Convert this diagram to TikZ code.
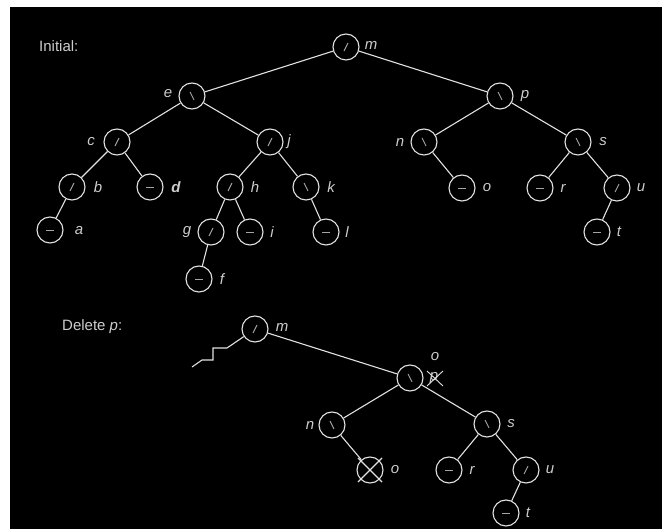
\documentclass[tikz,border=0pt]{standalone}
\usepackage{fontspec}
\setmainfont{Liberation Sans}
\begin{document}
\begin{tikzpicture}[x=1pt,y=-1pt,
  tn/.style={circle, draw=lgray, line width=1.1pt, minimum size=26pt, inner sep=0pt},
  edge/.style={draw=lgray, line width=1.1pt},
  sym/.style={draw=sgray, line width=0.9pt},
  lab/.style={text=tgray, font=\itshape\fontsize{15}{17}\selectfont, inner sep=0pt},
  ttl/.style={text=tgray, font=\fontsize{15}{17}\selectfont, inner sep=0pt, anchor=west}]
\definecolor{lgray}{RGB}{225,225,225}
\definecolor{sgray}{RGB}{165,165,165}
\definecolor{tgray}{RGB}{205,205,205}
\useasboundingbox (0,0) rectangle (662,529);
\fill[black] (10,7) rectangle (662,529);
\newcommand\Ls[1]{\draw[sym] ([shift={(-2,4)}]#1.center) -- ([shift={(2,-4)}]#1.center);}
\newcommand\Rs[1]{\draw[sym] ([shift={(-2,-4)}]#1.center) -- ([shift={(2,4)}]#1.center);}
\newcommand\Bs[1]{\draw[sym] ([shift={(-4,0)}]#1.center) -- ([shift={(4,0)}]#1.center);}
% titles
\node[ttl] (t1) at (39,46) {Initial:};
\node[ttl] (t2) at (62,327) {Delete \textit{p}:};
% initial tree
\node[tn] (m) at (346,47) {};
\node[tn] (e) at (192,96) {};
\node[tn] (p) at (500,96) {};
\node[tn] (c) at (117,142) {};
\node[tn] (j) at (270,142) {};
\node[tn] (n) at (424,142) {};
\node[tn] (s) at (578,142) {};
\node[tn] (b) at (72,187) {};
\node[tn] (d) at (150,187) {};
\node[tn] (h) at (230,187) {};
\node[tn] (k) at (306,187) {};
\node[tn] (o) at (462,188) {};
\node[tn] (r) at (540,188) {};
\node[tn] (u) at (617,188) {};
\node[tn] (a) at (50,230) {};
\node[tn] (g) at (211,232) {};
\node[tn] (i) at (250,232) {};
\node[tn] (l) at (326,232) {};
\node[tn] (t) at (597,232) {};
\node[tn] (f) at (199,279) {};
\foreach \u/\v in {m/e,m/p,e/c,e/j,p/n,p/s,c/b,c/d,j/h,j/k,n/o,s/r,s/u,b/a,h/g,h/i,k/l,u/t,g/f}
  \draw[edge] (\u) -- (\v);
\Ls{m}\Rs{e}\Rs{p}\Ls{c}\Ls{j}\Rs{n}\Rs{s}\Ls{b}\Bs{d}\Ls{h}\Rs{k}\Bs{o}\Bs{r}\Ls{u}
\Bs{a}\Ls{g}\Bs{i}\Bs{l}\Bs{t}\Bs{f}
\node[lab] (lm) at (371,45) {m};
\node[lab] (le) at (168,94) {e};
\node[lab] (lp) at (525,96) {p};
\node[lab] (lc) at (91,142) {c};
\node[lab] (lj) at (289,142) {j};
\node[lab] (ln) at (400,142) {n};
\node[lab] (ls) at (603,142) {s};
\node[lab] (lb) at (98,187) {b};
\node[lab] (ld) at (176,187) {\bfseries d};
\node[lab] (lh) at (255,187) {h};
\node[lab] (lk) at (331,187) {k};
\node[lab] (lo) at (487,188) {o};
\node[lab] (lr) at (563,188) {r};
\node[lab] (lu) at (641,188) {u};
\node[lab] (la) at (79,231) {a};
\node[lab] (lg) at (187,232) {g};
\node[lab] (li) at (272,232) {i};
\node[lab] (ll) at (347,232) {l};
\node[lab] (lt) at (619,232) {t};
\node[lab] (lf) at (222,279) {f};
% after deletion
\node[tn] (m2) at (255,329) {};
\node[tn] (q2) at (410,378) {};
\node[tn] (n2) at (332,425) {};
\node[tn] (s2) at (487,424) {};
\node[tn] (o2) at (370,470) {};
\node[tn] (r2) at (449,470) {};
\node[tn] (u2) at (526,470) {};
\node[tn] (t2n) at (506,513) {};
\foreach \u/\v in {m2/q2,q2/n2,q2/s2,n2/o2,s2/r2,s2/u2,u2/t2n}
  \draw[edge] (\u) -- (\v);
\Ls{m2}\Rs{q2}\Rs{n2}\Rs{s2}\Bs{r2}\Ls{u2}\Bs{t2n}
\draw[edge] ([shift={(-12,-12)}]o2.center) -- ([shift={(12,12)}]o2.center);
\draw[edge] ([shift={(12,-12)}]o2.center) -- ([shift={(-12,12)}]o2.center);
\coordinate (z1) at (227,348);
\coordinate (z2) at (213,348);
\coordinate (z3) at (213,360);
\coordinate (z4) at (202,360);
\coordinate (z5) at (192,367);
\draw[edge] (m2) -- (z1) -- (z2) -- (z3) -- (z4) -- (z5);
\node[lab] (lm2) at (282,327) {m};
\node[lab] (lq2o) at (435,357) {o};
\node[lab] (lq2p) at (434,378) {p};
\draw[edge, line width=0.9pt] (427,371) -- (443,386);
\draw[edge, line width=0.9pt] (443,371) -- (427,386);
\node[lab] (ln2) at (310,425) {n};
\node[lab] (ls2) at (511,424) {s};
\node[lab] (lo2) at (395,470) {o};
\node[lab] (lr2) at (472,470) {r};
\node[lab] (lu2) at (550,470) {u};
\node[lab] (lt2) at (528,513) {t};
\end{tikzpicture}
\end{document}
